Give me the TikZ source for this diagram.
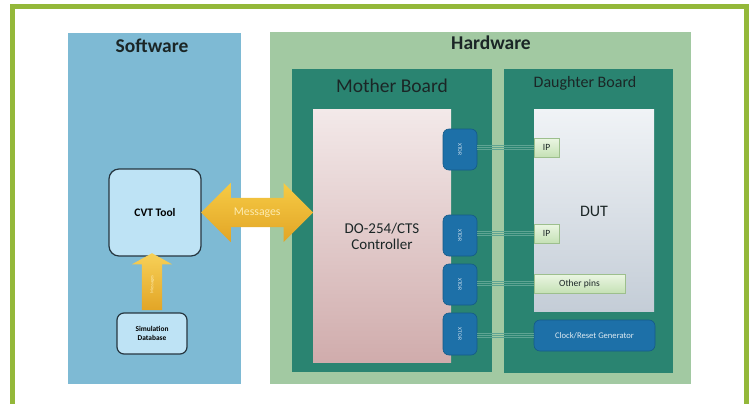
\documentclass[tikz,border=0pt]{standalone}
\usepackage{fontspec}
\setmainfont{Carlito}
\usepackage{graphicx}
\usetikzlibrary{shapes.arrows}

\definecolor{frameGreen}{HTML}{94B83A}
\definecolor{swBlue}{HTML}{7EBAD4}
\definecolor{hwGreen}{HTML}{A2C9A2}
\definecolor{boardTeal}{HTML}{2A8471}
\definecolor{ctrlTop}{HTML}{F3E9E9}
\definecolor{ctrlBot}{HTML}{D0ACAC}
\definecolor{dutTop}{HTML}{F0F3F6}
\definecolor{dutBot}{HTML}{C4CDD7}
\definecolor{xtorBlue}{HTML}{1D70A8}
\definecolor{xtorEdge}{HTML}{155A88}
\definecolor{ipTop}{HTML}{EBF6E3}
\definecolor{ipBot}{HTML}{C5E1B5}
\definecolor{ipEdge}{HTML}{9DBF8D}
\definecolor{toolBlue}{HTML}{BEE3F5}
\definecolor{toolEdge}{HTML}{263640}
\definecolor{arrowTop}{HTML}{F6CB45}
\definecolor{arrowBot}{HTML}{E2A526}
\definecolor{arrowText}{HTML}{FCEBB0}
\definecolor{busLine}{HTML}{5FA493}
\definecolor{darkText}{HTML}{1B2626}

\tikzset{
  panel/.style={rectangle, inner sep=0pt},
  board/.style={rectangle, fill=boardTeal, inner sep=0pt},
  title/.style={font=\fontsize{19.5}{20}\selectfont\bfseries, text=darkText, inner sep=0pt},
  boardtitle/.style={text=darkText, inner sep=0pt},
  xtorbox/.style={rectangle, rounded corners=6pt, fill=xtorBlue, draw=xtorEdge, line width=0.6pt,
    minimum width=34pt, minimum height=41pt, inner sep=0pt, text=white!80!xtorBlue,
    font=\fontsize{5.5}{6}\selectfont},
  pinbox/.style={rectangle, top color=ipTop, bottom color=ipBot, draw=ipEdge, line width=0.5pt,
    minimum height=19pt, inner sep=0pt, text=darkText, font=\fontsize{9.5}{10}\selectfont},
  toolbox/.style={rectangle, fill=toolBlue, draw=toolEdge, line width=1.2pt, inner sep=0pt,
    text=black, align=center},
  bus/.style={busLine, line width=0.6pt},
  msgarrow/.style={double arrow, double arrow head extend=15pt, inner xsep=0pt,
    text height=8.5pt, text depth=2.5pt, inner ysep=9pt,
    top color=arrowTop, bottom color=arrowBot, text=arrowText,
    font=\fontsize{11.8}{12}\selectfont},
  uparrow/.style={single arrow, single arrow head extend=10pt, single arrow tip angle=122,
    inner xsep=0pt, text height=3.5pt, text depth=1pt, inner ysep=7.75pt,
    top color=arrowTop!90!white, bottom color=arrowBot,
    text=arrowText, font=\fontsize{4.5}{5}\selectfont, rotate=90}
}

\begin{document}
\begin{tikzpicture}[x=1pt, y=-1pt]
\useasboundingbox (0,0) rectangle (752,404);

% outer frame, open at the bottom
\draw[frameGreen, line width=5pt] (12.5,404) -- (12.5,6.5) -- (746.8,6.5) -- (746.8,404);

% software side
\node[panel, fill=swBlue, minimum width=173pt, minimum height=351pt] (sw) at (154.5,208.5) {};
\node[title] (swtitle) at (152,46) {Software};
\node[toolbox, rounded corners=10pt, minimum width=92pt, minimum height=87pt,
  font=\fontsize{11.5}{12}\selectfont\bfseries] (cvt) at (155,212.5) {CVT Tool};
\node[toolbox, rounded corners=7pt, minimum width=70pt, minimum height=41pt,
  font=\fontsize{7.4}{9.5}\selectfont\bfseries] (simdb) at (152,333.5) {Simulation\\Database};

% hardware side
\node[panel, fill=hwGreen, minimum width=421pt, minimum height=352pt] (hw) at (480.5,208) {};
\node[title] (hwtitle) at (491,43) {Hardware};

\node[board, minimum width=200pt, minimum height=303pt] (mb) at (392,220.5) {};
\node[boardtitle, font=\fontsize{19.5}{20}\selectfont] (mbtitle) at (392,86) {Mother Board};
\node[rectangle, top color=ctrlTop, bottom color=ctrlBot, minimum width=138pt, minimum height=253pt,
  inner sep=0pt] (ctrl) at (382,235.5) {};
\node[text=darkText, align=center, font=\fontsize{15}{16}\selectfont] (ctrltext) at (382,236)
  {DO-254/CTS\\Controller};

\node[board, minimum width=169pt, minimum height=304pt] (db) at (588.5,221) {};
\node[boardtitle, font=\fontsize{16}{17}\selectfont] (dbtitle) at (585,83) {Daughter Board};
\node[rectangle, top color=dutTop, bottom color=dutBot, minimum width=120pt, minimum height=202pt,
  inner sep=0pt] (dut) at (594,210) {};
\node[text=darkText, font=\fontsize{16}{17}\selectfont] (duttext) at (594,211) {DUT};

% transactors
\node[xtorbox] (xtor1) at (460,149.5) {\rotatebox{-90}{XTOR}};
\node[xtorbox] (xtor2) at (460,235.5) {\rotatebox{-90}{XTOR}};
\node[xtorbox] (xtor3) at (460,284.5) {\rotatebox{-90}{XTOR}};
\node[xtorbox, minimum height=42pt] (xtor4) at (460,334) {\rotatebox{-90}{XTOR}};

% DUT pins
\node[pinbox, minimum width=25pt] (ip1) at (546.5,147.5) {IP};
\node[pinbox, minimum width=25pt] (ip2) at (546.5,233.5) {IP};
\node[pinbox, minimum width=91pt] (pins) at (579.5,283.5) {Other pins};
\node[rectangle, rounded corners=6pt, fill=xtorBlue, draw=xtorEdge, line width=0.6pt,
  minimum width=121pt, minimum height=31pt, inner sep=0pt, text=white!85!xtorBlue,
  font=\fontsize{8.6}{9}\selectfont] (clk) at (594.5,335.5) {Clock/Reset Generator};

% buses
\foreach \src/\dst in {xtor1/ip1, xtor2/ip2, xtor3/pins, xtor4/clk}
  \foreach \dy in {-2,0,2}
    \draw[bus] ([yshift=\dy pt]\dst.west) -- ([yshift=\dy pt]\dst.west -| \src.east);

% message arrows
\path (cvt.east) -- (cvt.east -| ctrl.west)
  node[midway, msgarrow, minimum height=112pt] (msg) {Messages};
\path (simdb.north) -- (simdb.north |- cvt.south)
  node[midway, uparrow, minimum height=57pt] (dbmsg) {Messages};
\end{tikzpicture}
\end{document}
